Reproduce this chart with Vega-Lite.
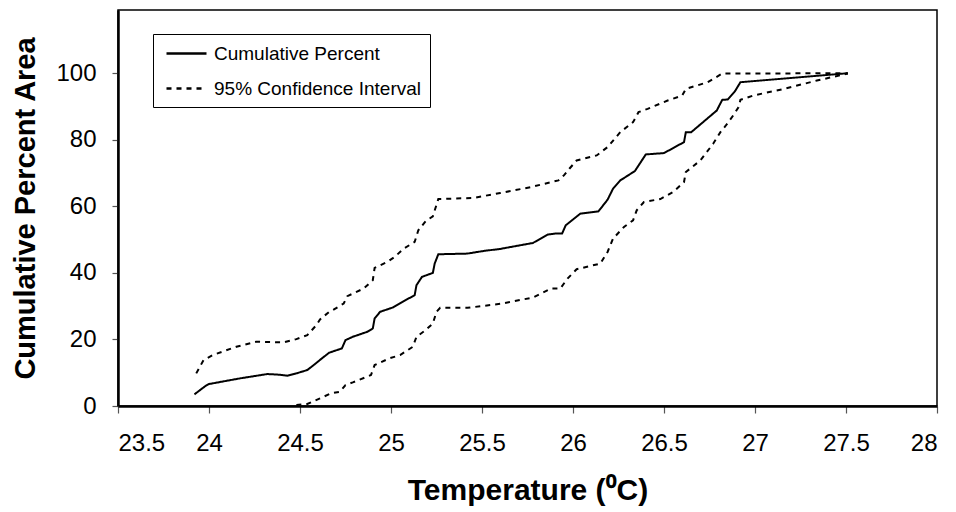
{
  "$schema": "https://vega.github.io/schema/vega-lite/v6.json",
  "width": 819,
  "height": 396,
  "autosize": {"type": "none"},
  "padding": {"left": 118, "top": 10, "right": 19, "bottom": 106},
  "background": "white",
  "config": {
    "font": "Liberation Sans",
    "view": {"stroke": "black", "strokeWidth": 1.5},
    "axis": {"grid": false, "domainColor": "black", "domainWidth": 2.5, "tickColor": "#555", "tickWidth": 1.2, "labelColor": "black", "titleColor": "black", "labelFont": "Liberation Sans", "titleFont": "Liberation Sans"}
  },
  "data": {"values": [
    {"band": "mid", "series": "Cumulative Percent", "temp": 23.92, "pct": 3.5},
    {"band": "mid", "series": "Cumulative Percent", "temp": 23.98, "pct": 6},
    {"band": "mid", "series": "Cumulative Percent", "temp": 24.0, "pct": 6.6},
    {"band": "mid", "series": "Cumulative Percent", "temp": 24.17, "pct": 8.3},
    {"band": "mid", "series": "Cumulative Percent", "temp": 24.32, "pct": 9.6},
    {"band": "mid", "series": "Cumulative Percent", "temp": 24.39, "pct": 9.4},
    {"band": "mid", "series": "Cumulative Percent", "temp": 24.43, "pct": 9.1},
    {"band": "mid", "series": "Cumulative Percent", "temp": 24.48, "pct": 9.8},
    {"band": "mid", "series": "Cumulative Percent", "temp": 24.54, "pct": 10.8},
    {"band": "mid", "series": "Cumulative Percent", "temp": 24.58, "pct": 12.5},
    {"band": "mid", "series": "Cumulative Percent", "temp": 24.62, "pct": 14.3},
    {"band": "mid", "series": "Cumulative Percent", "temp": 24.66, "pct": 16},
    {"band": "mid", "series": "Cumulative Percent", "temp": 24.73, "pct": 17.3},
    {"band": "mid", "series": "Cumulative Percent", "temp": 24.75, "pct": 19.8},
    {"band": "mid", "series": "Cumulative Percent", "temp": 24.79, "pct": 20.8},
    {"band": "mid", "series": "Cumulative Percent", "temp": 24.87, "pct": 22.3},
    {"band": "mid", "series": "Cumulative Percent", "temp": 24.9, "pct": 23.3},
    {"band": "mid", "series": "Cumulative Percent", "temp": 24.91, "pct": 26.3},
    {"band": "mid", "series": "Cumulative Percent", "temp": 24.94, "pct": 28.3},
    {"band": "mid", "series": "Cumulative Percent", "temp": 25.01, "pct": 29.6},
    {"band": "mid", "series": "Cumulative Percent", "temp": 25.08, "pct": 31.8},
    {"band": "mid", "series": "Cumulative Percent", "temp": 25.13, "pct": 33.3},
    {"band": "mid", "series": "Cumulative Percent", "temp": 25.14, "pct": 36.3},
    {"band": "mid", "series": "Cumulative Percent", "temp": 25.17, "pct": 38.8},
    {"band": "mid", "series": "Cumulative Percent", "temp": 25.23, "pct": 40},
    {"band": "mid", "series": "Cumulative Percent", "temp": 25.24, "pct": 42.8},
    {"band": "mid", "series": "Cumulative Percent", "temp": 25.26, "pct": 45.6},
    {"band": "mid", "series": "Cumulative Percent", "temp": 25.42, "pct": 45.8},
    {"band": "mid", "series": "Cumulative Percent", "temp": 25.51, "pct": 46.6},
    {"band": "mid", "series": "Cumulative Percent", "temp": 25.6, "pct": 47.2},
    {"band": "mid", "series": "Cumulative Percent", "temp": 25.78, "pct": 49},
    {"band": "mid", "series": "Cumulative Percent", "temp": 25.86, "pct": 51.5},
    {"band": "mid", "series": "Cumulative Percent", "temp": 25.9, "pct": 51.8},
    {"band": "mid", "series": "Cumulative Percent", "temp": 25.94, "pct": 51.8},
    {"band": "mid", "series": "Cumulative Percent", "temp": 25.96, "pct": 54.3},
    {"band": "mid", "series": "Cumulative Percent", "temp": 26.04, "pct": 57.8},
    {"band": "mid", "series": "Cumulative Percent", "temp": 26.14, "pct": 58.5},
    {"band": "mid", "series": "Cumulative Percent", "temp": 26.19, "pct": 62},
    {"band": "mid", "series": "Cumulative Percent", "temp": 26.22, "pct": 65.3},
    {"band": "mid", "series": "Cumulative Percent", "temp": 26.26, "pct": 67.8},
    {"band": "mid", "series": "Cumulative Percent", "temp": 26.34, "pct": 70.6},
    {"band": "mid", "series": "Cumulative Percent", "temp": 26.4, "pct": 75.6},
    {"band": "mid", "series": "Cumulative Percent", "temp": 26.5, "pct": 76},
    {"band": "mid", "series": "Cumulative Percent", "temp": 26.61, "pct": 79.3},
    {"band": "mid", "series": "Cumulative Percent", "temp": 26.62, "pct": 82.3},
    {"band": "mid", "series": "Cumulative Percent", "temp": 26.65, "pct": 82.3},
    {"band": "mid", "series": "Cumulative Percent", "temp": 26.79, "pct": 88.8},
    {"band": "mid", "series": "Cumulative Percent", "temp": 26.82, "pct": 92},
    {"band": "mid", "series": "Cumulative Percent", "temp": 26.85, "pct": 92.1},
    {"band": "mid", "series": "Cumulative Percent", "temp": 26.89, "pct": 94.6},
    {"band": "mid", "series": "Cumulative Percent", "temp": 26.92, "pct": 97.3},
    {"band": "mid", "series": "Cumulative Percent", "temp": 27.51, "pct": 100},

    {"band": "upper", "series": "95% Confidence Interval", "temp": 23.93, "pct": 9.8},
    {"band": "upper", "series": "95% Confidence Interval", "temp": 23.97, "pct": 13.8},
    {"band": "upper", "series": "95% Confidence Interval", "temp": 24.02, "pct": 15.3},
    {"band": "upper", "series": "95% Confidence Interval", "temp": 24.15, "pct": 17.8},
    {"band": "upper", "series": "95% Confidence Interval", "temp": 24.26, "pct": 19.3},
    {"band": "upper", "series": "95% Confidence Interval", "temp": 24.41, "pct": 19.1},
    {"band": "upper", "series": "95% Confidence Interval", "temp": 24.48, "pct": 20.1},
    {"band": "upper", "series": "95% Confidence Interval", "temp": 24.54, "pct": 21.3},
    {"band": "upper", "series": "95% Confidence Interval", "temp": 24.59, "pct": 24.3},
    {"band": "upper", "series": "95% Confidence Interval", "temp": 24.61, "pct": 26},
    {"band": "upper", "series": "95% Confidence Interval", "temp": 24.66, "pct": 28.3},
    {"band": "upper", "series": "95% Confidence Interval", "temp": 24.68, "pct": 28.8},
    {"band": "upper", "series": "95% Confidence Interval", "temp": 24.74, "pct": 30.8},
    {"band": "upper", "series": "95% Confidence Interval", "temp": 24.76, "pct": 33},
    {"band": "upper", "series": "95% Confidence Interval", "temp": 24.85, "pct": 35.3},
    {"band": "upper", "series": "95% Confidence Interval", "temp": 24.9, "pct": 37.8},
    {"band": "upper", "series": "95% Confidence Interval", "temp": 24.91, "pct": 41.5},
    {"band": "upper", "series": "95% Confidence Interval", "temp": 24.98, "pct": 43.3},
    {"band": "upper", "series": "95% Confidence Interval", "temp": 25.02, "pct": 44.8},
    {"band": "upper", "series": "95% Confidence Interval", "temp": 25.07, "pct": 47.3},
    {"band": "upper", "series": "95% Confidence Interval", "temp": 25.13, "pct": 49.3},
    {"band": "upper", "series": "95% Confidence Interval", "temp": 25.15, "pct": 52.8},
    {"band": "upper", "series": "95% Confidence Interval", "temp": 25.19, "pct": 55.5},
    {"band": "upper", "series": "95% Confidence Interval", "temp": 25.23, "pct": 57},
    {"band": "upper", "series": "95% Confidence Interval", "temp": 25.26, "pct": 62.2},
    {"band": "upper", "series": "95% Confidence Interval", "temp": 25.45, "pct": 62.5},
    {"band": "upper", "series": "95% Confidence Interval", "temp": 25.6, "pct": 64},
    {"band": "upper", "series": "95% Confidence Interval", "temp": 25.77, "pct": 65.8},
    {"band": "upper", "series": "95% Confidence Interval", "temp": 25.92, "pct": 67.8},
    {"band": "upper", "series": "95% Confidence Interval", "temp": 25.95, "pct": 69.3},
    {"band": "upper", "series": "95% Confidence Interval", "temp": 25.98, "pct": 71.3},
    {"band": "upper", "series": "95% Confidence Interval", "temp": 26.02, "pct": 73.8},
    {"band": "upper", "series": "95% Confidence Interval", "temp": 26.13, "pct": 75.3},
    {"band": "upper", "series": "95% Confidence Interval", "temp": 26.19, "pct": 77.8},
    {"band": "upper", "series": "95% Confidence Interval", "temp": 26.26, "pct": 82.3},
    {"band": "upper", "series": "95% Confidence Interval", "temp": 26.33, "pct": 85.3},
    {"band": "upper", "series": "95% Confidence Interval", "temp": 26.36, "pct": 88.3},
    {"band": "upper", "series": "95% Confidence Interval", "temp": 26.41, "pct": 89.3},
    {"band": "upper", "series": "95% Confidence Interval", "temp": 26.52, "pct": 91.8},
    {"band": "upper", "series": "95% Confidence Interval", "temp": 26.6, "pct": 93.3},
    {"band": "upper", "series": "95% Confidence Interval", "temp": 26.62, "pct": 95.3},
    {"band": "upper", "series": "95% Confidence Interval", "temp": 26.74, "pct": 97.3},
    {"band": "upper", "series": "95% Confidence Interval", "temp": 26.82, "pct": 99.9},
    {"band": "upper", "series": "95% Confidence Interval", "temp": 27.51, "pct": 100},

    {"band": "lower", "series": "95% Confidence Interval", "temp": 24.48, "pct": 0.3},
    {"band": "lower", "series": "95% Confidence Interval", "temp": 24.54, "pct": 0.6},
    {"band": "lower", "series": "95% Confidence Interval", "temp": 24.61, "pct": 2.3},
    {"band": "lower", "series": "95% Confidence Interval", "temp": 24.67, "pct": 3.8},
    {"band": "lower", "series": "95% Confidence Interval", "temp": 24.72, "pct": 4.3},
    {"band": "lower", "series": "95% Confidence Interval", "temp": 24.75, "pct": 6.3},
    {"band": "lower", "series": "95% Confidence Interval", "temp": 24.79, "pct": 7.1},
    {"band": "lower", "series": "95% Confidence Interval", "temp": 24.89, "pct": 9.3},
    {"band": "lower", "series": "95% Confidence Interval", "temp": 24.91, "pct": 12.3},
    {"band": "lower", "series": "95% Confidence Interval", "temp": 24.99, "pct": 14.3},
    {"band": "lower", "series": "95% Confidence Interval", "temp": 25.05, "pct": 15.3},
    {"band": "lower", "series": "95% Confidence Interval", "temp": 25.12, "pct": 17.8},
    {"band": "lower", "series": "95% Confidence Interval", "temp": 25.14, "pct": 20.8},
    {"band": "lower", "series": "95% Confidence Interval", "temp": 25.19, "pct": 22.8},
    {"band": "lower", "series": "95% Confidence Interval", "temp": 25.23, "pct": 24.8},
    {"band": "lower", "series": "95% Confidence Interval", "temp": 25.25, "pct": 28.3},
    {"band": "lower", "series": "95% Confidence Interval", "temp": 25.27, "pct": 29.5},
    {"band": "lower", "series": "95% Confidence Interval", "temp": 25.42, "pct": 29.5},
    {"band": "lower", "series": "95% Confidence Interval", "temp": 25.6, "pct": 30.7},
    {"band": "lower", "series": "95% Confidence Interval", "temp": 25.78, "pct": 32.6},
    {"band": "lower", "series": "95% Confidence Interval", "temp": 25.88, "pct": 35.3},
    {"band": "lower", "series": "95% Confidence Interval", "temp": 25.93, "pct": 35.3},
    {"band": "lower", "series": "95% Confidence Interval", "temp": 25.97, "pct": 38.3},
    {"band": "lower", "series": "95% Confidence Interval", "temp": 26.02, "pct": 41.1},
    {"band": "lower", "series": "95% Confidence Interval", "temp": 26.15, "pct": 42.8},
    {"band": "lower", "series": "95% Confidence Interval", "temp": 26.19, "pct": 46.3},
    {"band": "lower", "series": "95% Confidence Interval", "temp": 26.22, "pct": 50.3},
    {"band": "lower", "series": "95% Confidence Interval", "temp": 26.28, "pct": 53.8},
    {"band": "lower", "series": "95% Confidence Interval", "temp": 26.33, "pct": 55.8},
    {"band": "lower", "series": "95% Confidence Interval", "temp": 26.35, "pct": 58.8},
    {"band": "lower", "series": "95% Confidence Interval", "temp": 26.39, "pct": 61.3},
    {"band": "lower", "series": "95% Confidence Interval", "temp": 26.48, "pct": 62.2},
    {"band": "lower", "series": "95% Confidence Interval", "temp": 26.55, "pct": 64.3},
    {"band": "lower", "series": "95% Confidence Interval", "temp": 26.61, "pct": 67.3},
    {"band": "lower", "series": "95% Confidence Interval", "temp": 26.62, "pct": 70.3},
    {"band": "lower", "series": "95% Confidence Interval", "temp": 26.7, "pct": 73.8},
    {"band": "lower", "series": "95% Confidence Interval", "temp": 26.77, "pct": 78.8},
    {"band": "lower", "series": "95% Confidence Interval", "temp": 26.81, "pct": 82.3},
    {"band": "lower", "series": "95% Confidence Interval", "temp": 26.84, "pct": 84.3},
    {"band": "lower", "series": "95% Confidence Interval", "temp": 26.88, "pct": 87.3},
    {"band": "lower", "series": "95% Confidence Interval", "temp": 26.91, "pct": 89.8},
    {"band": "lower", "series": "95% Confidence Interval", "temp": 26.92, "pct": 92},
    {"band": "lower", "series": "95% Confidence Interval", "temp": 26.99, "pct": 93.3},
    {"band": "lower", "series": "95% Confidence Interval", "temp": 27.16, "pct": 95.3},
    {"band": "lower", "series": "95% Confidence Interval", "temp": 27.34, "pct": 97.8},
    {"band": "lower", "series": "95% Confidence Interval", "temp": 27.51, "pct": 99.9}
  ]},
  "mark": {"type": "line", "color": "black", "strokeWidth": 2},
  "encoding": {
    "x": {
      "field": "temp", "type": "quantitative",
      "scale": {"domain": [23.5, 28], "nice": false, "zero": false},
      "axis": {
        "values": [23.5, 24, 24.5, 25, 25.5, 26, 26.5, 27, 27.5, 28],
        "labelExpr": "datum.value + ''",
        "title": "Temperature (⁰C)",
        "labelFontSize": 24, "labelBaseline": "alphabetic", "labelPadding": 37, "tickSize": 7,
        "titleFontSize": 30, "titleFontWeight": "bold", "titleBaseline": "alphabetic", "titleY": 93
      }
    },
    "y": {
      "field": "pct", "type": "quantitative",
      "scale": {"domain": [0, 119], "nice": false},
      "axis": {
        "values": [0, 20, 40, 60, 80, 100],
        "title": "Cumulative Percent Area",
        "labelFontSize": 24, "labelPadding": 16, "tickSize": 6,
        "titleFontSize": 29, "titleFontWeight": "bold", "titleBaseline": "alphabetic", "titleX": -84, "titleY": 198
      }
    },
    "detail": {"field": "band"},
    "strokeDash": {
      "field": "series", "type": "nominal",
      "scale": {"domain": ["Cumulative Percent", "95% Confidence Interval"], "range": [[1, 0], [5, 5]]},
      "legend": {
        "title": null, "orient": "none", "legendX": 35, "legendY": 24,
        "strokeColor": "black", "fillColor": "white", "padding": 8,
        "symbolType": "M-2,0H2", "symbolSize": 400, "symbolStrokeWidth": 2.5, "symbolStrokeColor": "black", "symbolOffset": 14,
        "labelFontSize": 19, "labelOffset": 16, "labelLimit": 400, "labelColor": "black", "rowPadding": 13
      }
    }
  }
}
